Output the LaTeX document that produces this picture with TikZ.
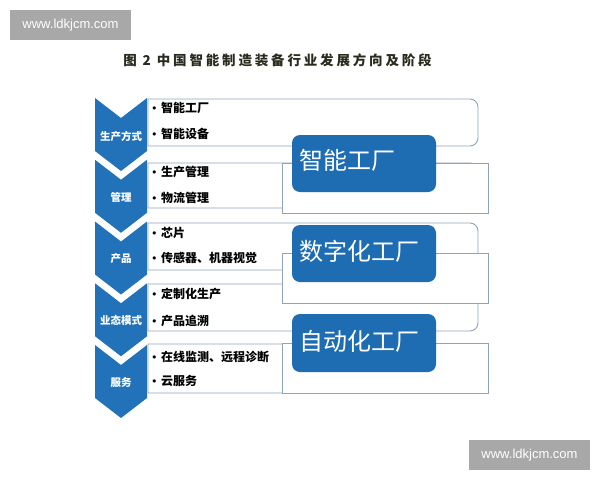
\documentclass[tikz,border=0pt]{standalone}
\usepackage{fontspec}
\setmainfont{Liberation Sans}
\newfontfamily\cjk{Noto Sans CJK SC}
\newfontfamily\dejavu{DejaVu Sans}
\newfontfamily\cjkt[LetterSpace=21]{Noto Sans CJK SC}
\definecolor{chev}{HTML}{2272B9}
\definecolor{bbox}{HTML}{1E6DB2}
\definecolor{bord}{HTML}{8EA3BD}
\definecolor{wm}{HTML}{A8A8A8}
\definecolor{ttl}{HTML}{2B2A1E}
\newcommand\rrowbox[2]{%
  \draw[rowbox] (148,#1) -- (470,#1) .. controls (474.4,#1) and (478,{#1+3.6}) .. (478,{#1+8})
    -- (478,{#2-8}) .. controls (478,{#2-3.6}) and (474.4,#2) .. (470,#2) -- (148,#2) -- cycle;}
\newcommand\bul{\makebox[10pt][l]{\dejavu\mdseries\fontsize{11}{12}\selectfont •}}
\begin{document}
\begin{tikzpicture}[x=1pt,y=-1pt,
  rowbox/.style={fill=white,draw=bord,line width=0.9pt},
  overbox/.style={fill=white,draw=bord,line width=0.9pt},
  bigbox/.style={fill=bbox,rounded corners=8pt},
  chevlabel/.style={text=white,font=\cjk\bfseries\fontsize{10.5}{12}\selectfont,inner sep=0pt},
  item/.style={anchor=west,inner sep=0pt,font=\cjk\bfseries\fontsize{12}{14}\selectfont,text=black},
  bigtext/.style={anchor=west,inner sep=0pt,text=white,font=\cjk\fontsize{24}{28}\selectfont},
  wmark/.style={fill=wm,text=white,minimum width=121pt,minimum height=30pt,inner sep=0pt,font=\fontsize{13}{15}\selectfont}
]
\useasboundingbox (0,0) rectangle (600,480);
\fill[white] (0,0) rectangle (600,480);

% watermarks
\node[wmark] (wm1) at (70.5,25) {www.ldkjcm.com};
\node[wmark] (wm2) at (529.5,455) {www.ldkjcm.com};

% title
\node[text=ttl,inner sep=0pt,font=\cjkt\bfseries\fontsize{13.5}{15}\selectfont] (title) at (277.5,60) {图 2 中国智能制造装备行业发展方向及阶段};

% chevrons
\foreach \t in {98,159.75,221.5,283.25,345}{
  \fill[chev] (95,\t) -- (121,{\t+20}) -- (147,\t) -- (147,{\t+53}) -- (121,{\t+73}) -- (95,{\t+53}) -- cycle;
}
\node[chevlabel] (c1) at (121,136) {生产方式};
\node[chevlabel] (c2) at (121,197) {管理};
\node[chevlabel] (c3) at (121,258.5) {产品};
\node[chevlabel] (c4) at (121,320) {业态模式};
\node[chevlabel] (c5) at (121,383) {服务};

% row boxes
\rrowbox{99}{146}
\rrowbox{163}{208}
\rrowbox{223}{270}
\rrowbox{284}{331}
\rrowbox{344}{393}

% overlay rectangles
\draw[overbox] (282,163) rectangle (488,213);
\draw[overbox] (282,253) rectangle (488,303);
\draw[overbox] (282,343) rectangle (488,393);

% items
\node[item] (i1a) at (151,108) {\bul 智能工厂};
\node[item] (i1b) at (151,134) {\bul 智能设备};
\node[item] (i2a) at (151,172) {\bul 生产管理};
\node[item] (i2b) at (151,198) {\bul 物流管理};
\node[item] (i3a) at (151,233) {\bul 芯片};
\node[item] (i3b) at (151,258) {\bul 传感器、机器视觉};
\node[item] (i4a) at (151,294) {\bul 定制化生产};
\node[item] (i4b) at (151,321) {\bul 产品追溯};
\node[item] (i5a) at (151,357) {\bul 在线监测、远程诊断};
\node[item] (i5b) at (151,381) {\bul 云服务};

% big blue boxes
\fill[bigbox] (292,135) rectangle (436,192);
\fill[bigbox] (292,225) rectangle (436,282);
\fill[bigbox] (292,314) rectangle (436,372);
\node[bigtext] (b1) at (299,160.5) {智能工厂};
\node[bigtext] (b2) at (299,251) {数字化工厂};
\node[bigtext] (b3) at (299,341.5) {自动化工厂};
\end{tikzpicture}
\end{document}
